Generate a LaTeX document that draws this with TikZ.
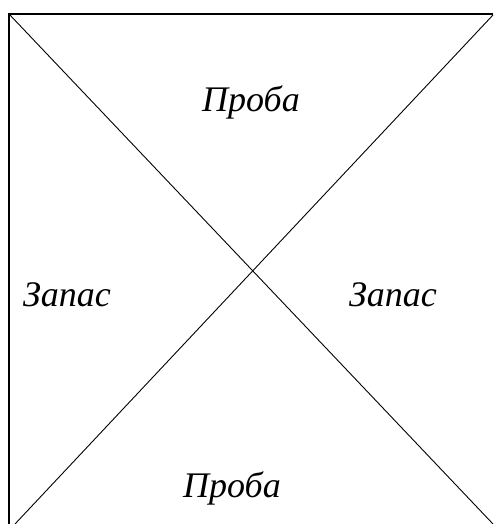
\documentclass[tikz,border=0pt]{standalone}
\usepackage{fontspec}
\setmainfont{Liberation Serif}
\begin{document}
\begin{tikzpicture}[x=1pt, y=-1pt,
	label/.style={anchor=base, inner sep=0pt, font=\fontsize{36}{40}\selectfont\itshape}]
	% Khung ảnh theo kích thước gốc
	\useasboundingbox (0,0) rectangle (493,524);
	
	% 1. Hai cạnh của khung (trên và trái)
	\coordinate (tl) at (9,14);
	\coordinate (tr) at (493,14);
	\coordinate (bl) at (9,524);
	\draw[line width=2pt] (tr) -- (tl) -- (bl);
	
	% 2. Hai đường chéo
	\coordinate (br) at (493,524);
	\coordinate (bm) at (15,524);
	\draw[line width=0.9pt] (tl) -- (br);
	\draw[line width=0.9pt] (493,15) -- (bm);
	
	% 3. Các nhãn
	\node[label] (probaTop) at (251,112) {Проба};
	\node[label] (zapasLeft) at (67,306) {Запас};
	\node[label] (zapasRight) at (393,306) {Запас};
	\node[label] (probaBottom) at (232,497) {Проба};
\end{tikzpicture}
\end{document}
